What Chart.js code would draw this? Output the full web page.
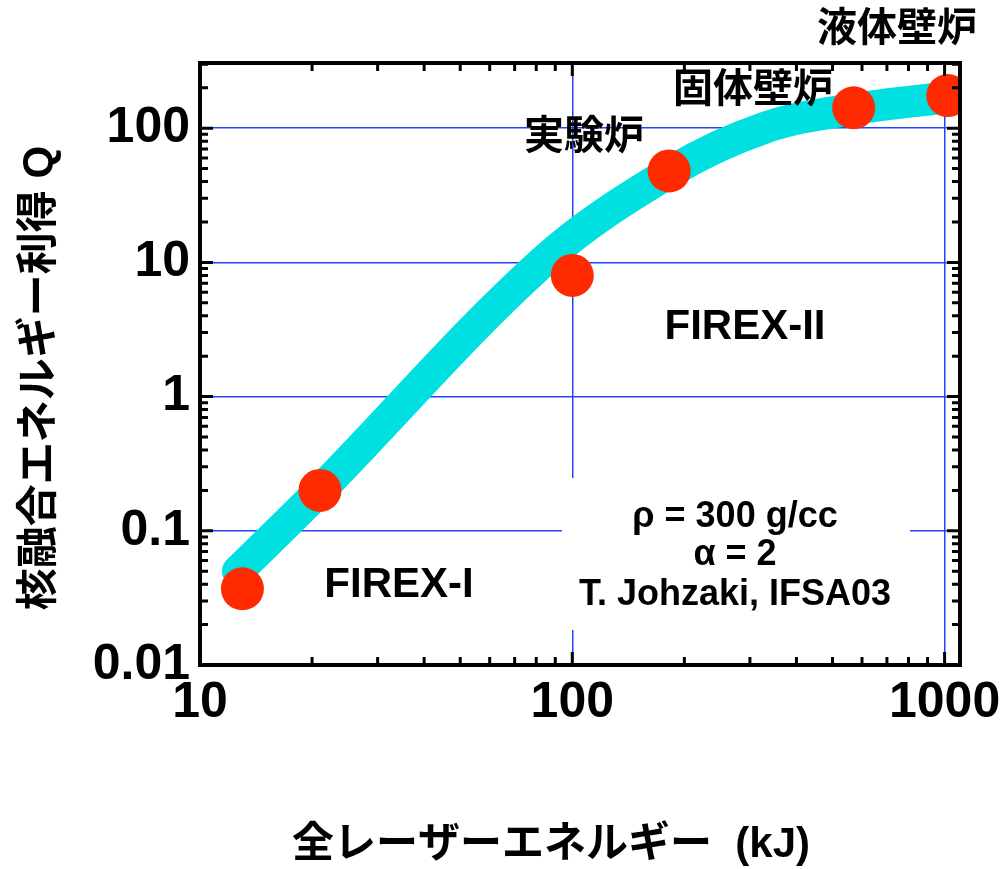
<!DOCTYPE html>
<html>
<head>
<meta charset="utf-8">
<script src="https://cdn.jsdelivr.net/npm/chart.js@4/dist/chart.umd.min.js"></script>
<style>
  html, body { margin: 0; padding: 0; background: #ffffff; }
  canvas { display: block; }
</style>
</head>
<body>
<canvas id="c" width="1007" height="869"></canvas>
<script>
// Target design points: total laser energy (kJ) vs fusion gain Q
const laserKJ = [13, 21, 100, 182, 570, 1020];
const gainQ   = [0.037, 0.2, 8, 48, 142, 175];

// Scaling curve (rho = 300 g/cc, alpha = 2)
const curveKJ = [12.65, 21, 83, 185, 333, 570, 1018, 1100];
const curveQ  = [0.05, 0.2, 10, 48, 102, 139, 170, 174];

// Axis ticks
const xTicks = [10, 100, 1000];
const yTicks = [0.01, 0.1, 1, 10, 100];
const xRange = [10, 1100];
const yRange = [0.01, 306];

const GRID_BLUE = '#2244ff';
const BAND = '#00e0e0';
const DOT = '#ff2a00';
const LATIN = "'Liberation Sans', Arial, sans-serif";
const MIXED = "'Liberation Sans', 'Noto Sans CJK JP', sans-serif";
const CJK = "'Noto Sans CJK JP', 'Noto Sans CJK SC', sans-serif";

function minorTicks(majors, lo, hi) {
  const out = [];
  majors.forEach(d => {
    for (let k = 2; k <= 9; k++) {
      const v = d * k;
      if (v > lo && v < hi) out.push(v);
    }
  });
  return out;
}

// White panel behind the parameter note (covers grid lines)
const notePanel = {
  id: 'notePanel',
  beforeDatasetsDraw(chart) {
    const c = chart.ctx;
    c.save();
    c.fillStyle = '#ffffff';
    c.fillRect(562, 478, 348, 152);
    c.restore();
  }
};

// Region labels and note text
const labelsPlugin = {
  id: 'labels',
  afterDatasetsDraw(chart) {
    const c = chart.ctx;
    c.save();
    c.fillStyle = '#000000';
    c.textAlign = 'center';
    c.textBaseline = 'middle';
    c.font = 'bold 40px ' + CJK;
    c.fillText('実験炉', 584, 134);
    c.fillText('固体壁炉', 753, 87);
    c.fillText('液体壁炉', 897, 26);
    c.font = 'bold 42px ' + LATIN;
    c.fillText('FIREX-II', 745, 327);
    c.fillText('FIREX-I', 399, 585);
    c.font = 'bold 36px ' + LATIN;
    c.fillText('ρ = 300 g/cc', 735, 517);
    c.fillText('α = 2', 735, 555);
    c.fillText('T. Johzaki, IFSA03', 735, 595);
    c.restore();
  }
};

// Frame, inward ticks on all four sides, axis titles
const framePlugin = {
  id: 'frame',
  afterDraw(chart) {
    const c = chart.ctx;
    const a = chart.chartArea;
    const xs = chart.scales.x, ys = chart.scales.y;
    c.save();
    c.strokeStyle = '#000000';
    c.lineCap = 'butt';
    c.lineWidth = 3;
    const MAJ = 13, MIN = 8;
    const xMin = minorTicks(xTicks, xRange[0], xRange[1]);
    const yMin = minorTicks(yTicks, yRange[0], yRange[1]);
    c.beginPath();
    xTicks.forEach(v => {
      const p = xs.getPixelForValue(v);
      c.moveTo(p, a.bottom); c.lineTo(p, a.bottom - MAJ);
      c.moveTo(p, a.top); c.lineTo(p, a.top + MAJ);
    });
    xMin.forEach(v => {
      const p = xs.getPixelForValue(v);
      c.moveTo(p, a.bottom); c.lineTo(p, a.bottom - MIN);
      c.moveTo(p, a.top); c.lineTo(p, a.top + MIN);
    });
    yTicks.forEach(v => {
      const p = ys.getPixelForValue(v);
      c.moveTo(a.left, p); c.lineTo(a.left + MAJ, p);
      c.moveTo(a.right, p); c.lineTo(a.right - MAJ, p);
    });
    yMin.forEach(v => {
      const p = ys.getPixelForValue(v);
      c.moveTo(a.left, p); c.lineTo(a.left + MIN, p);
      c.moveTo(a.right, p); c.lineTo(a.right - MIN, p);
    });
    c.stroke();
    c.lineWidth = 4;
    c.strokeRect(a.left, a.top, a.right - a.left, a.bottom - a.top);

    c.fillStyle = '#000000';
    c.textAlign = 'center';
    c.textBaseline = 'middle';
    c.font = 'bold 42px ' + MIXED;
    c.fillText('全レーザーエネルギー  (kJ)', 551, 845);
    c.translate(40, 378);
    c.rotate(-Math.PI / 2);
    c.fillText('核融合エネルギー利得 Q', 0, 0);
    c.restore();
  }
};

const tickFont = { family: LATIN, size: 50, weight: 'bold' };

new Chart(document.getElementById('c'), {
  type: 'scatter',
  data: {
    datasets: [
      {
        label: 'Design points',
        data: laserKJ.map((x, i) => ({ x, y: gainQ[i] })),
        pointRadius: 21.5,
        pointHoverRadius: 21.5,
        backgroundColor: DOT,
        borderWidth: 0,
        showLine: false,
        clip: 0,
        order: 0
      },
      {
        label: 'Scaling',
        data: curveKJ.map((x, i) => ({ x, y: curveQ[i] })),
        showLine: true,
        borderColor: BAND,
        borderWidth: 32,
        borderCapStyle: 'round',
        borderJoinStyle: 'round',
        tension: 0.35,
        pointRadius: 0,
        clip: 0,
        order: 1
      }
    ]
  },
  options: {
    responsive: false,
    animation: false,
    devicePixelRatio: 1,
    layout: { padding: { left: 0, top: 63, right: 47, bottom: 0 } },
    plugins: { legend: { display: false }, tooltip: { enabled: false } },
    scales: {
      x: {
        type: 'logarithmic',
        position: 'bottom',
        min: xRange[0],
        max: xRange[1],
        border: { display: false },
        grid: { color: GRID_BLUE, lineWidth: 1.5, drawTicks: false },
        ticks: { color: '#000000', font: tickFont, padding: 8, maxRotation: 0, autoSkip: false,
                 callback: v => String(v) },
        afterBuildTicks: s => { s.ticks = xTicks.map(v => ({ value: v })); },
        afterFit: s => { s.height = 204; s.paddingLeft = 0; s.paddingRight = 0; }
      },
      y: {
        type: 'logarithmic',
        position: 'left',
        min: yRange[0],
        max: yRange[1],
        border: { display: false },
        grid: { color: GRID_BLUE, lineWidth: 1.5, drawTicks: false },
        ticks: { color: '#000000', font: tickFont, padding: 10, autoSkip: false,
                 callback: v => String(v) },
        afterBuildTicks: s => { s.ticks = yTicks.map(v => ({ value: v })); },
        afterFit: s => { s.width = 200; s.paddingTop = 0; s.paddingBottom = 0; }
      }
    }
  },
  plugins: [notePanel, labelsPlugin, framePlugin]
});
</script>
</body>
</html>
